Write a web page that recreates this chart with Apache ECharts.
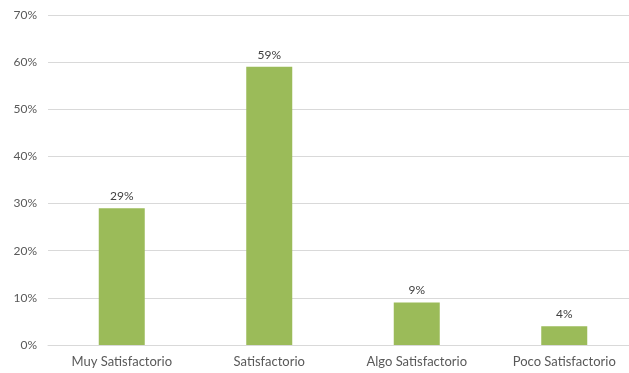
<!DOCTYPE html>
<html>
<head>
<meta charset="utf-8">
<style>
  html, body { margin: 0; padding: 0; background: #ffffff; overflow: hidden; }
  /* plot area runs slightly past the right edge of the window */
  #chart { width: 640px; height: 373px; }
</style>
<script src="https://cdn.jsdelivr.net/npm/echarts@6/dist/echarts.min.js"></script>
</head>
<body>
<div id="chart"></div>
<script>
// Satisfaction levels and their share of responses (%)
const categories = ['Muy Satisfactorio', 'Satisfactorio', 'Algo Satisfactorio', 'Poco Satisfactorio'];
const shares = [29, 59, 9, 4];
const yTicks = [0, 10, 20, 30, 40, 50, 60, 70];

const fontFamily = 'Lato, "Open Sans", sans-serif';
const chart = echarts.init(document.getElementById('chart'), null, { renderer: 'canvas' });

chart.setOption({
  animation: false,
  grid: { left: 48, top: 15, width: 590, height: 330, containLabel: false },
  xAxis: {
    type: 'category',
    data: categories,
    axisLine: { lineStyle: { color: '#d9d9d9', width: 1 } },
    axisTick: { show: false },
    axisLabel: { color: '#595959', fontSize: 13, fontFamily: fontFamily, margin: 10 }
  },
  yAxis: {
    type: 'value',
    min: yTicks[0],
    max: yTicks[yTicks.length - 1],
    interval: 10,
    axisLine: { show: false },
    axisTick: { show: false },
    splitLine: { lineStyle: { color: '#d9d9d9', width: 1 } },
    axisLabel: {
      color: '#595959', fontSize: 12, fontFamily: fontFamily, margin: 11,
      formatter: v => v + '%'
    }
  },
  series: [{
    type: 'bar',
    data: shares,
    barWidth: 46,
    itemStyle: { color: '#9bbb59' },
    label: {
      show: true,
      position: 'top',
      distance: 6,
      color: '#404040',
      fontSize: 12,
      fontFamily: fontFamily,
      formatter: p => p.value + '%'
    }
  }]
});
</script>
</body>
</html>
